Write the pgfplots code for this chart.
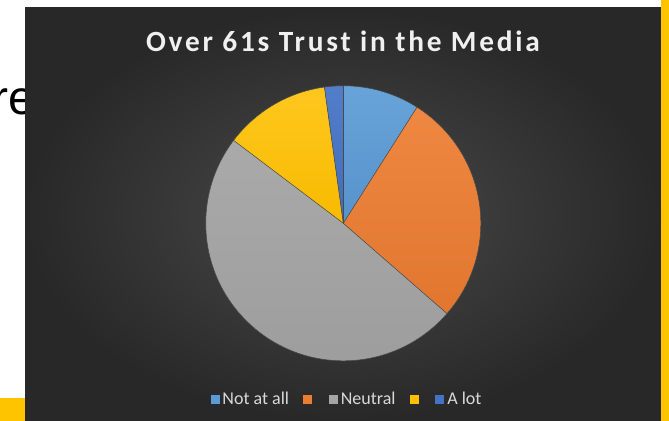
\documentclass[border=0pt]{standalone}
\usepackage{pgfplots}
\pgfplotsset{compat=1.18}
\usepackage{pgfplotstable}
\usepackage{fontspec}
\setmainfont{Carlito}
\newfontfamily\arialfont{Liberation Sans}
\newfontfamily\titlefont[LetterSpace=9.5]{Carlito}
\definecolor{cBlue}{HTML}{5B9BD5}
\definecolor{cOrange}{HTML}{ED7D31}
\definecolor{cGray}{HTML}{A5A5A5}
\definecolor{cYellow}{HTML}{FFC000}
\definecolor{cDark}{HTML}{4472C4}
\definecolor{barY}{HTML}{FFC400}
\definecolor{bgIn}{HTML}{4A4A4A}
\definecolor{bgOut}{HTML}{282828}
\definecolor{titleC}{HTML}{F0F0F0}
\definecolor{legC}{HTML}{D9D9D9}

\pgfplotstableread[col sep=comma]{
label,value
Not at all,9.0
{},27.4
Neutral,48.9
{},12.5
A lot,2.2
}\piedata

\pgfplotstablegetelem{0}{value}\of\piedata \pgfmathsetmacro\vA{\pgfplotsretval}
\pgfplotstablegetelem{1}{value}\of\piedata \pgfmathsetmacro\vB{\pgfplotsretval}
\pgfplotstablegetelem{2}{value}\of\piedata \pgfmathsetmacro\vC{\pgfplotsretval}
\pgfplotstablegetelem{3}{value}\of\piedata \pgfmathsetmacro\vD{\pgfplotsretval}
\pgfplotstablegetelem{4}{value}\of\piedata \pgfmathsetmacro\vE{\pgfplotsretval}
\pgfmathsetmacro\tot{\vA+\vB+\vC+\vD+\vE}
\pgfmathsetmacro\aO{90}
\pgfmathsetmacro\aA{\aO-\vA/\tot*360}
\pgfmathsetmacro\aB{\aA-\vB/\tot*360}
\pgfmathsetmacro\aC{\aB-\vC/\tot*360}
\pgfmathsetmacro\aD{\aC-\vD/\tot*360}
\pgfmathsetmacro\aE{\aD-\vE/\tot*360}

\begin{document}
\begin{tikzpicture}
\path[use as bounding box] (0,0) rectangle (501.75pt,315.75pt);
\clip (0,0) rectangle (501.75pt,315.75pt);
\begin{axis}[
  at={(0,0)}, anchor=south west,
  x=0.75pt, y=0.75pt, scale only axis,
  xmin=0, xmax=669, ymin=0, ymax=421,
  hide axis, clip=false,
  legend columns=-1,
  legend image code/.code={\fill[#1] (0pt,-3pt) rectangle (6pt,3pt);},
  legend style={at={(axis cs:347,22)}, anchor=center, draw=none, fill=none,
    text=legC, font=\fontsize{13.5}{15}\selectfont,
    /tikz/every odd column/.append style={column sep=1pt},
    /tikz/every even column/.append style={column sep=9pt},
    nodes={inner sep=1.5pt}},
]
% page elements
\node[anchor=base west, inner sep=0pt, font=\arialfont\fontsize{36}{40}\selectfont, text=black] at (axis cs:-8,306) {re};
\fill[barY] (axis cs:0,0) rectangle (axis cs:25,23);
\shade[inner color=bgIn, outer color=bgOut] (axis cs:25,0) rectangle (axis cs:661,413);
\fill[barY] (axis cs:661,0) rectangle (axis cs:669,421);
\node[anchor=base, inner sep=0pt, text=titleC, font=\titlefont\bfseries\fontsize{22}{25}\selectfont] at (axis cs:343,369) {Over 61s Trust in the Media};
% pie wedges
\def\R{103.125pt}
\coordinate (c) at (axis cs:343.3,197.7);
\shade[top color=cBlue!92!white, bottom color=cBlue!95!black] (c) -- ++(\aO:\R) arc[start angle=\aO, end angle=\aA, radius=\R] -- cycle;
\shade[top color=cOrange!92!white, bottom color=cOrange!95!black] (c) -- ++(\aA:\R) arc[start angle=\aA, end angle=\aB, radius=\R] -- cycle;
\shade[top color=cGray!95!white, bottom color=cGray!95!black] (c) -- ++(\aB:\R) arc[start angle=\aB, end angle=\aC, radius=\R] -- cycle;
\shade[top color=cYellow!88!white, bottom color=cYellow!97!black] (c) -- ++(\aC:\R) arc[start angle=\aC, end angle=\aD, radius=\R] -- cycle;
\shade[top color=cDark!92!white, bottom color=cDark!95!black] (c) -- ++(\aD:\R) arc[start angle=\aD, end angle=\aE, radius=\R] -- cycle;
\draw[bgIn, line width=0.4pt] (c) -- ++(\aO:\R);
\draw[bgIn, line width=0.4pt] (c) -- ++(\aA:\R);
\draw[bgIn, line width=0.4pt] (c) -- ++(\aB:\R);
\draw[bgIn, line width=0.4pt] (c) -- ++(\aC:\R);
\draw[bgIn, line width=0.4pt] (c) -- ++(\aD:\R);
\draw[bgIn, line width=0.4pt] (c) circle[radius=\R];
% legend
\addlegendimage{cBlue}\addlegendentry{Not at all}
\addlegendimage{cOrange}\addlegendentry{\mbox{}}
\addlegendimage{cGray}\addlegendentry{Neutral}
\addlegendimage{cYellow}\addlegendentry{\mbox{}}
\addlegendimage{cDark}\addlegendentry{A lot}
\end{axis}
\end{tikzpicture}
\end{document}
